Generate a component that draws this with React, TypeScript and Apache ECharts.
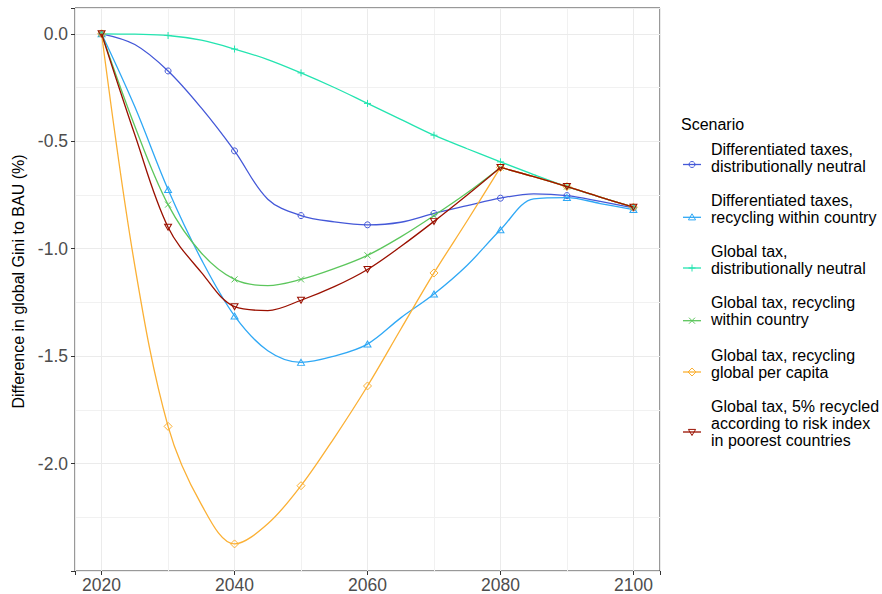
import React, { useEffect, useRef } from "react";
import * as echarts from "echarts";

// ---- data ----
const years = [2020, 2025, 2030, 2035, 2040, 2045, 2050, 2055, 2060, 2065, 2070, 2075, 2080, 2085, 2090, 2095, 2100];
const markerYears = [2020, 2030, 2040, 2050, 2060, 2070, 2080, 2090, 2100];
const peakYear = 2080;

const diffNeutral = [0, -0.05, -0.173, -0.345, -0.545, -0.77, -0.846, -0.875, -0.889, -0.877, -0.836, -0.8, -0.765, -0.745, -0.753, -0.78, -0.81];
const diffRecycling = [0, -0.34, -0.725, -1.05, -1.313, -1.475, -1.529, -1.5, -1.444, -1.322, -1.211, -1.077, -0.912, -0.768, -0.762, -0.79, -0.818];
const globalNeutral = [0, -0.002, -0.008, -0.03, -0.071, -0.12, -0.182, -0.25, -0.324, -0.398, -0.472, -0.535, -0.596, -0.655, -0.711, -0.76, -0.807];
const globalRecycling = [0, -0.43, -0.795, -1.02, -1.143, -1.172, -1.143, -1.093, -1.031, -0.945, -0.846, -0.74, -0.622, -0.665, -0.711, -0.76, -0.807];
const globalPerCapita = [0, -1.08, -1.827, -2.19, -2.374, -2.28, -2.103, -1.88, -1.639, -1.375, -1.113, -0.87, -0.622, -0.665, -0.711, -0.76, -0.807];
const globalRisk = [0, -0.47, -0.9, -1.11, -1.27, -1.288, -1.24, -1.177, -1.097, -0.99, -0.873, -0.75, -0.622, -0.665, -0.711, -0.76, -0.807];

const xTickLabels = [2020, 2040, 2060, 2080, 2100];
const yTickLabels = [0, -0.5, -1.0, -1.5, -2.0];

const legendTitle = "Scenario";
const scenarioNames = [
  "Differentiated taxes,\ndistributionally neutral",
  "Differentiated taxes,\nrecycling within country",
  "Global tax,\ndistributionally neutral",
  "Global tax, recycling\nwithin country",
  "Global tax, recycling\nglobal per capita",
  "Global tax, 5% recycled\naccording to risk index\nin poorest countries",
];
const scenarioValues = [diffNeutral, diffRecycling, globalNeutral, globalRecycling, globalPerCapita, globalRisk];
const scenarioColors = ["#4458d8", "#2fa8f5", "#24e4b0", "#5cc65c", "#fbb034", "#9a1000"];
const scenarioShapes = ["circle", "triangle", "plus", "cross", "diamond", "down"];
const splitAtPeak = [false, false, true, true, true, true];

const FONT = "'Liberation Sans', Arial, Helvetica, sans-serif";

const symbolFor = (shape: string): { symbol: string; size: number | number[] } => {
  switch (shape) {
    case "circle":
      return { symbol: "circle", size: 6 };
    case "triangle":
      return { symbol: "path://M5,0L10,8.66L0,8.66Z", size: [7, 6] };
    case "plus":
      return { symbol: "path://M5,0L5,10M0,5L10,5", size: 7 };
    case "cross":
      return { symbol: "path://M0,0L10,10M10,0L0,10", size: 6 };
    case "diamond":
      return { symbol: "diamond", size: 8 };
    default:
      return { symbol: "path://M0,0L10,0L5,8.66Z", size: [7, 6] };
  }
};

const legendShape = (shape: string, cx: number, cy: number, color: string): any[] => {
  const st = { fill: "none", stroke: color, lineWidth: 1 };
  switch (shape) {
    case "circle":
      return [{ type: "circle", shape: { cx, cy, r: 3 }, style: st }];
    case "triangle":
      return [{ type: "polygon", shape: { points: [[cx, cy - 3.5], [cx + 3.6, cy + 2.6], [cx - 3.6, cy + 2.6]] }, style: st }];
    case "plus":
      return [
        { type: "line", shape: { x1: cx - 3.5, y1: cy, x2: cx + 3.5, y2: cy }, style: st },
        { type: "line", shape: { x1: cx, y1: cy - 3.5, x2: cx, y2: cy + 3.5 }, style: st },
      ];
    case "cross":
      return [
        { type: "line", shape: { x1: cx - 3, y1: cy - 3, x2: cx + 3, y2: cy + 3 }, style: st },
        { type: "line", shape: { x1: cx + 3, y1: cy - 3, x2: cx - 3, y2: cy + 3 }, style: st },
      ];
    case "diamond":
      return [{ type: "polygon", shape: { points: [[cx, cy - 4], [cx + 4, cy], [cx, cy + 4], [cx - 4, cy]] }, style: st }];
    default:
      return [{ type: "polygon", shape: { points: [[cx - 3.6, cy - 2.6], [cx + 3.6, cy - 2.6], [cx, cy + 3.5]] }, style: st }];
  }
};

const isTick = (list: number[], v: number) => list.some((t) => Math.abs(t - v) < 1e-6);

export default function App() {
  const ref = useRef<HTMLDivElement>(null);

  useEffect(() => {
    if (!ref.current) return;
    const chart = echarts.init(ref.current, undefined, { renderer: "svg" });

    const series: any[] = [];
    scenarioNames.forEach((name, i) => {
      const sym = symbolFor(scenarioShapes[i]);
      const makePart = (from: number, to: number, skipFirstMarker: boolean) => ({
        name,
        type: "line",
        xAxisIndex: 0,
        yAxisIndex: 0,
        smooth: 0.35,
        showSymbol: true,
        showAllSymbol: true,
        symbol: sym.symbol,
        symbolSize: sym.size,
        lineStyle: { color: scenarioColors[i], width: 1.3 },
        itemStyle: { color: "rgba(0,0,0,0)", borderColor: scenarioColors[i], borderWidth: 1 },
        emphasis: { disabled: true },
        data: years
          .map((yr, k) => ({ yr, v: scenarioValues[i][k] }))
          .filter((d) => d.yr >= from && d.yr <= to)
          .map((d, k) => {
            const item: any = { value: [d.yr, d.v] };
            if (!markerYears.includes(d.yr) || (skipFirstMarker && k === 0)) item.symbol = "none";
            return item;
          }),
        z: 3 + i,
      });
      if (splitAtPeak[i]) {
        series.push(makePart(years[0], peakYear, false));
        series.push(makePart(peakYear, years[years.length - 1], true));
      } else {
        series.push(makePart(years[0], years[years.length - 1], false));
      }
    });

    // custom legend
    const legendEls: any[] = [
      {
        type: "text",
        x: 681,
        y: 124,
        style: { text: legendTitle, fontSize: 16, fontFamily: FONT, fill: "#000", verticalAlign: "middle" },
      },
    ];
    const textTops = [140.8, 191.5, 243.2, 294.2, 346.5, 397.5];
    const iconYs = [164.5, 217.3, 268, 320.7, 372, 432];
    scenarioNames.forEach((name, i) => {
      legendEls.push({
        type: "text",
        x: 711,
        y: textTops[i],
        style: { text: name, fontSize: 16, fontFamily: FONT, fill: "#000", verticalAlign: "top", lineHeight: 17 },
      });
      legendEls.push({
        type: "line",
        shape: { x1: 683, y1: iconYs[i], x2: 701, y2: iconYs[i] },
        style: { stroke: scenarioColors[i], lineWidth: 1.3 },
      });
      legendShape(scenarioShapes[i], 692, iconYs[i], scenarioColors[i]).forEach((e) => legendEls.push(e));
    });

    const option: any = {
      animation: false,
      backgroundColor: "#fff",
      textStyle: { fontFamily: FONT },
      grid: {
        left: 75,
        top: 8,
        right: 222,
        bottom: 21,
        show: true,
        borderColor: "#333",
        borderWidth: 1,
        backgroundColor: "transparent",
      },
      xAxis: [
        {
          type: "value",
          min: 2016,
          max: 2104,
          axisLine: { show: false, onZero: false },
          axisTick: { show: true, length: 4, lineStyle: { color: "#333" } },
          axisLabel: {
            fontSize: 17.5,
            color: "#4d4d4d",
            fontFamily: FONT,
            margin: 5,
            formatter: (v: number) => (isTick(xTickLabels, v) ? String(v) : ""),
          },
          splitLine: { show: true, lineStyle: { color: "#ebebeb", width: 1 } },
          z: 2,
        },
        {
          type: "value",
          min: 2016,
          max: 2104,
          splitNumber: 9,
          position: "bottom",
          axisLine: { show: false, onZero: false },
          axisTick: { show: false },
          axisLabel: { show: false },
          splitLine: { show: true, lineStyle: { color: "#f1f1f1", width: 1 } },
          z: 1,
        },
      ],
      yAxis: [
        {
          type: "value",
          min: -2.5,
          max: 0.12,
          name: "Difference in global Gini to BAU (%)",
          nameLocation: "middle",
          nameGap: 40,
          nameTextStyle: { fontSize: 16, color: "#000", fontFamily: FONT, padding: [0, 0, 0, 16] },
          axisLine: { show: false, onZero: false },
          axisTick: { show: true, length: 4, lineStyle: { color: "#333" } },
          axisLabel: {
            fontSize: 17.5,
            color: "#4d4d4d",
            fontFamily: FONT,
            margin: 7,
            formatter: (v: number) => (isTick(yTickLabels, v) ? v.toFixed(1) : ""),
          },
          splitLine: { show: true, lineStyle: { color: "#ebebeb", width: 1 } },
          z: 2,
        },
        {
          type: "value",
          min: -2.5,
          max: 0.12,
          interval: 0.25,
          position: "left",
          axisLine: { show: false, onZero: false },
          axisTick: { show: false },
          axisLabel: { show: false },
          splitLine: { show: true, lineStyle: { color: "#f1f1f1", width: 1 } },
          z: 1,
        },
      ],
      graphic: legendEls,
      series,
    };

    chart.setOption(option);
    return () => chart.dispose();
  }, []);

  return (
    <div
      ref={ref}
      style={{ position: "fixed", left: 0, top: 0, width: 882, height: 594, background: "#fff" }}
    />
  );
}
